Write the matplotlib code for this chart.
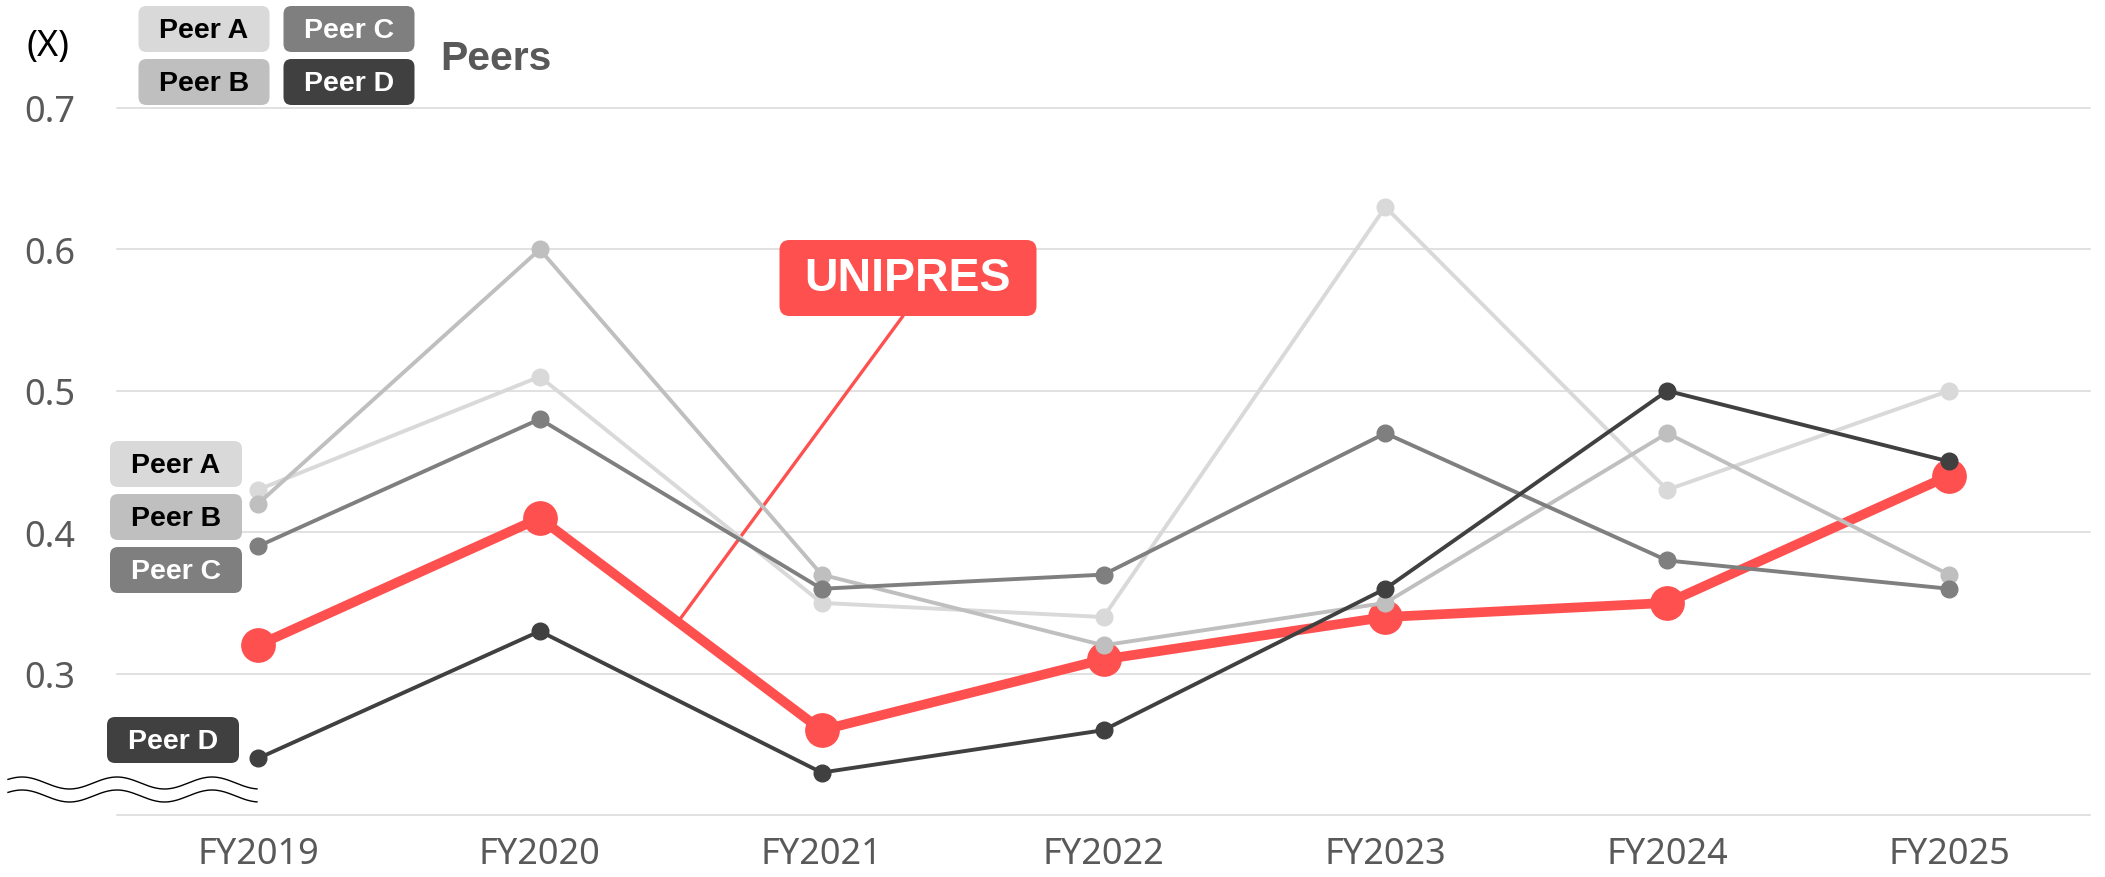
import numpy as np
import matplotlib.pyplot as plt
from matplotlib.patches import FancyBboxPatch
from matplotlib.lines import Line2D

plt.rcParams['font.family'] = ['Noto Sans', 'DejaVu Sans']
BOLD_FONT = ['Liberation Sans', 'DejaVu Sans']

# Data
years = ["FY2019", "FY2020", "FY2021", "FY2022", "FY2023", "FY2024", "FY2025"]
unipres = [0.32, 0.41, 0.26, 0.31, 0.34, 0.35, 0.44]
peer_a = [0.43, 0.51, 0.35, 0.34, 0.63, 0.43, 0.50]
peer_b = [0.42, 0.60, 0.37, 0.32, 0.35, 0.47, 0.37]
peer_c = [0.39, 0.48, 0.36, 0.37, 0.47, 0.38, 0.36]
peer_d = [0.24, 0.33, 0.23, 0.26, 0.36, 0.50, 0.45]

peer_names = ["Peer A", "Peer B", "Peer C", "Peer D"]
peer_colors = ["#d9d9d9", "#bfbfbf", "#7f7f7f", "#404040"]
peer_text_colors = ["black", "black", "white", "white"]

y_ticks = [0.2, 0.3, 0.4, 0.5, 0.6, 0.7]
y_tick_labels = ["", "0.3", "0.4", "0.5", "0.6", "0.7"]

RED = "#ff5050"
GREY_TXT = "#595959"

# canvas in pixels
W, H = 2105, 878
fig = plt.figure(figsize=(W / 100, H / 100), dpi=100)
ax = fig.add_axes([117 / W, 1 - 816 / H, (2090 - 117) / W, (816 - 109) / H])

x = np.arange(len(years))
ax.plot(x, unipres, color=RED, lw=7, marker='o', ms=24, zorder=3, clip_on=False)
for vals, c in zip([peer_a, peer_b, peer_c, peer_d], peer_colors):
    ax.plot(x, vals, color=c, lw=2.8, marker='o', ms=12, zorder=4, clip_on=False)

ax.set_xlim(-0.5, 6.5)
ax.set_ylim(0.2, 0.7)
ax.set_xticks(x, years)
ax.set_yticks(y_ticks, y_tick_labels)
ax.tick_params(length=0, labelsize=26, labelcolor=GREY_TXT)
ax.tick_params(axis='y', pad=30)
ax.tick_params(axis='x', pad=15)
ax.grid(axis='y', color='#d9d9d9', lw=1.1)
ax.set_axisbelow(True)
for s in ax.spines.values():
    s.set_visible(False)
for gl in ax.get_ygridlines():
    gl.set_clip_on(False)


# rounded tags, placed in pixel coords measured from the top
def tag(cx, cy, w, h, text, fc, tc, size=20.5, r=8, base=8):
    fig.add_artist(FancyBboxPatch(((cx - w / 2) / 100, (H - cy - h / 2) / 100), w / 100, h / 100,
                                  boxstyle=f"round,pad=0,rounding_size={r / 100}",
                                  fc=fc, ec='none', transform=fig.dpi_scale_trans))
    fig.text(cx / 100, (H - cy - base) / 100, text, transform=fig.dpi_scale_trans,
             ha='center', va='baseline', color=tc, fontsize=size, fontweight='bold',
             family=BOLD_FONT)


# legend at top
top_pos = [(204, 30), (204, 83), (349, 30), (349, 83)]
for (cx, cy), name, fc, tc in zip(top_pos, peer_names, peer_colors, peer_text_colors):
    tag(cx, cy, 131, 46, name, fc, tc)

# labels next to first points
side_pos = [(176, 465), (176, 518), (176, 571), (173, 741)]
for (cx, cy), name, fc, tc in zip(side_pos, peer_names, peer_colors, peer_text_colors):
    tag(cx, cy, 132, 46, name, fc, tc)

fig.text(440 / 100, (H - 70) / 100, "Peers", transform=fig.dpi_scale_trans,
         fontsize=29.5, fontweight='bold', color=GREY_TXT, va='baseline', family=BOLD_FONT)
fig.text(27 / 100, (H - 56) / 100, "(X)", transform=fig.dpi_scale_trans,
         fontsize=26, color='black', va='baseline')

# UNIPRES callout
x_lead = 1.49
y_lead = np.interp(x_lead, x, unipres)
ax.annotate("", xy=(x_lead, y_lead), xycoords='data',
            xytext=(903, H - 317), textcoords='figure pixels',
            arrowprops=dict(arrowstyle='-', color=RED, lw=2.4, shrinkA=0, shrinkB=0),
            zorder=2)
tag(908, 279, 257, 76, "UNIPRES", RED, 'white', size=33.5, r=10, base=12)

# axis break squiggle
xs = np.linspace(8, 257, 200)
for off in (784, 797):
    ys = off - 6 * np.cos(2 * np.pi * (xs - 117) / 95)
    fig.add_artist(Line2D(xs / 100, (H - ys) / 100, transform=fig.dpi_scale_trans,
                          color='black', lw=1))

fig.savefig("out.png", dpi=100)
